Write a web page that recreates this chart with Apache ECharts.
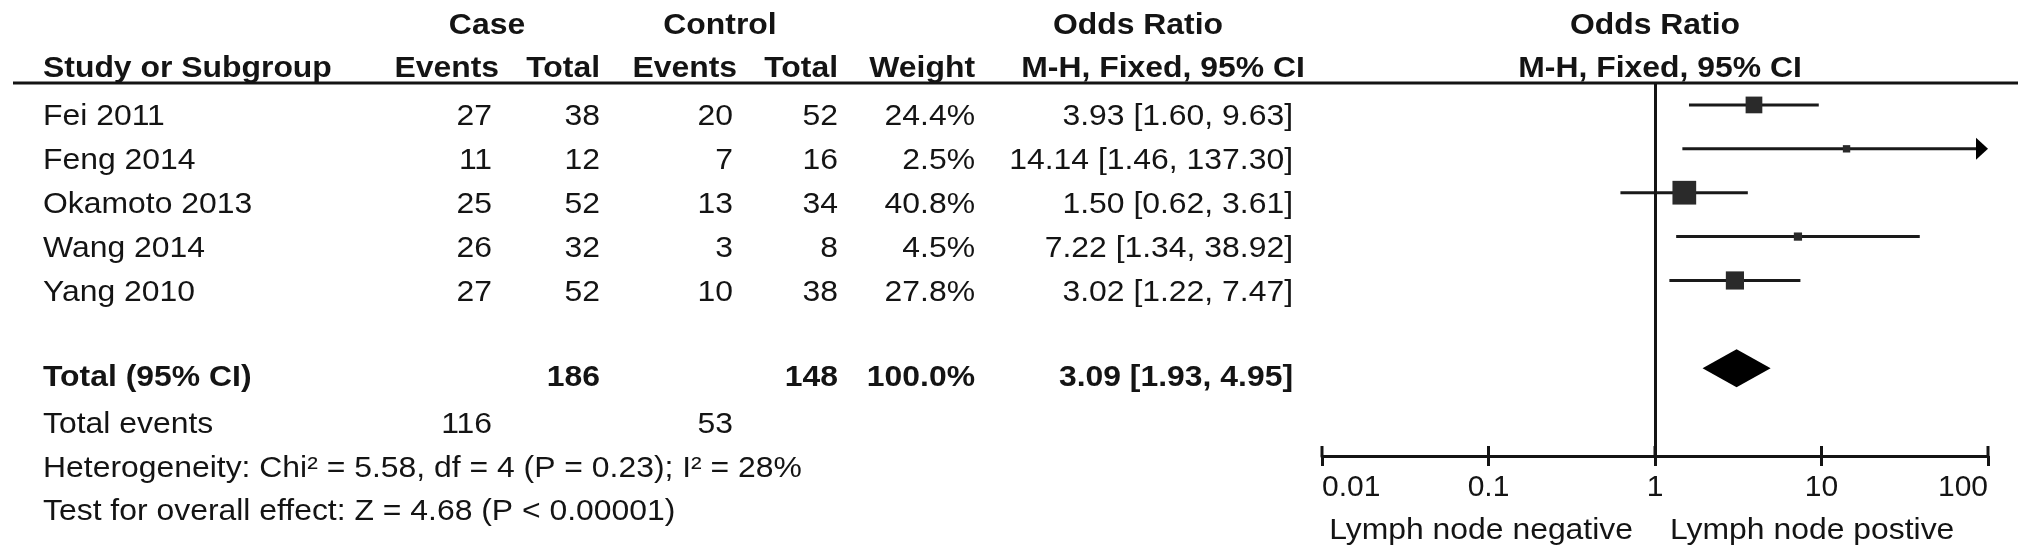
<!DOCTYPE html>
<html><head><meta charset="utf-8">
<script src="https://cdn.jsdelivr.net/npm/echarts@6/dist/echarts.min.js"></script>
<style>html,body{margin:0;padding:0;background:#fff}#c{width:2031px;height:560px}</style>
</head><body><div id="c"></div>
<script>
// ---------- data ----------
const studies = ['Fei 2011', 'Feng 2014', 'Okamoto 2013', 'Wang 2014', 'Yang 2010'];
const caseEvents = [27, 11, 25, 26, 27];
const caseTotal = [38, 12, 52, 32, 52];
const ctrlEvents = [20, 7, 13, 3, 10];
const ctrlTotal = [52, 16, 34, 8, 38];
const weights = [24.4, 2.5, 40.8, 4.5, 27.8];
const orValues = [3.93, 14.14, 1.50, 7.22, 3.02];
const ciLow = [1.60, 1.46, 0.62, 1.34, 1.22];
const ciHigh = [9.63, 137.30, 3.61, 38.92, 7.47];
const totalRow = ['Total (95% CI)', 186, 148, 100.0];
const totalOR = [3.09, 1.93, 4.95];
const totalEvents = ['Total events', 116, 53];
const heterogeneityText = 'Heterogeneity: Chi\u00b2 = 5.58, df = 4 (P = 0.23); I\u00b2 = 28%';
const overallText = 'Test for overall effect: Z = 4.68 (P < 0.00001)';
const tickValues = [0.01, 0.1, 1, 10, 100];
const tickLabels = ['0.01', '0.1', '1', '10', '100'];
const favourLeft = 'Lymph node negative';
const favourRight = 'Lymph node postive';

// ---------- layout / style ----------
const FONT = '"Liberation Sans", Arial, Helvetica, sans-serif';
const INK = '#141414';
const SX = 1.1;
const X_MIN = 0.01, X_MAX = 100;
const Y_MAX = 8;
const COL = {name: 43, caseEv: 492, caseTot: 600, ctrlEv: 733, ctrlTot: 838, weight: 975, or: 1293};
const TOTAL_ROW = 6, EVENTS_ROW = 7, HET_ROW = 8, TEST_ROW = 9;

function txt(x, y, s, align, bold, size) {
  return {
    type: 'text', x: x, y: y, scaleX: SX,
    style: {
      text: String(s), fill: INK, fontFamily: FONT, fontSize: size || 29,
      fontWeight: bold ? 'bold' : 'normal', align: align || 'left', verticalAlign: 'middle'
    }
  };
}
const fmtOR = (o, l, h) => o.toFixed(2) + ' [' + l.toFixed(2) + ', ' + h.toFixed(2) + ']';

const chart = echarts.init(document.getElementById('c'), null, {renderer: 'canvas'});

chart.setOption({
  animation: false,
  backgroundColor: '#fff',
  grid: {left: 1322, right: 43, top: 83, bottom: 104, containLabel: false},
  xAxis: {
    type: 'log', logBase: 10, min: X_MIN, max: X_MAX, position: 'bottom',
    splitLine: {show: false}, minorTick: {show: false},
    axisLine: {show: true, onZero: false, lineStyle: {color: INK, width: 3}},
    axisTick: {show: true, length: 10, inside: false, lineStyle: {color: INK, width: 3}},
    axisLabel: {
      show: true, fontSize: 30, fontFamily: FONT, color: INK, margin: 17,
      alignMinLabel: 'left', alignMaxLabel: 'right',
      formatter: function (v) {
        const k = Math.round(Math.log10(v)) + 2;
        return tickLabels[k] !== undefined ? tickLabels[k] : '';
      }
    }
  },
  yAxis: {type: 'value', inverse: true, min: -0.5, max: Y_MAX, show: false},
  graphic: [{
    type: 'line', shape: {x1: 13, y1: 83, x2: 2018, y2: 83},
    style: {stroke: INK, lineWidth: 3}, silent: true
  }],
  series: [
    // upper halves of the axis ticks
    {
      type: 'custom', name: 'ticksUp', clip: false,
      data: tickValues.map(v => [v, Y_MAX]),
      encode: {x: 0, y: 1},
      renderItem: function (params, api) {
        const p = api.coord([api.value(0), Y_MAX]);
        return {type: 'line', shape: {x1: p[0], y1: p[1] - 10, x2: p[0], y2: p[1]},
          style: {stroke: INK, lineWidth: 3}};
      }
    },
    // study rows: table text
    {
      type: 'custom', name: 'table', clip: false,
      data: studies.map((s, i) => [i, 1]),
      encode: {y: 0, x: 1},
      renderItem: function (params, api) {
        const i = api.value(0);
        const y = api.coord([1, i])[1] + 12.5;
        return {type: 'group', children: [
          txt(COL.name, y, studies[i], 'left'),
          txt(COL.caseEv, y, caseEvents[i], 'right'),
          txt(COL.caseTot, y, caseTotal[i], 'right'),
          txt(COL.ctrlEv, y, ctrlEvents[i], 'right'),
          txt(COL.ctrlTot, y, ctrlTotal[i], 'right'),
          txt(COL.weight, y, weights[i].toFixed(1) + '%', 'right'),
          txt(COL.or, y, fmtOR(orValues[i], ciLow[i], ciHigh[i]), 'right')
        ]};
      }
    },
    // study rows: CI lines and boxes
    {
      type: 'custom', name: 'forest', clip: false,
      data: studies.map((s, i) => [i, orValues[i], ciLow[i], ciHigh[i], weights[i]]),
      encode: {y: 0, x: [1, 2, 3]},
      renderItem: function (params, api) {
        const i = api.value(0), o = api.value(1), lo = api.value(2), hi = api.value(3), w = api.value(4);
        const p = api.coord([o, i]);
        const xl = api.coord([Math.max(lo, X_MIN), i])[0];
        const xh = api.coord([Math.min(hi, X_MAX), i])[0];
        const s = 6.3 + 0.427 * w;
        const children = [
          {type: 'line', shape: {x1: xl, y1: p[1], x2: hi > X_MAX ? xh - 8 : xh, y2: p[1]},
           style: {stroke: '#1a1a1a', lineWidth: 3}},
          {type: 'rect', shape: {x: p[0] - s / 2, y: p[1] - s / 2, width: s, height: s},
           style: {fill: '#2a2a2a'}}
        ];
        if (hi > X_MAX) {
          children.push({type: 'polygon', shape: {points: [[xh, p[1]], [xh - 12, p[1] - 11], [xh - 12, p[1] + 11]]},
            style: {fill: '#000'}});
        }
        return {type: 'group', children: children};
      }
    },
    // pooled diamond + line of no effect
    {
      type: 'custom', name: 'total', clip: false,
      data: [[TOTAL_ROW, totalOR[0], totalOR[1], totalOR[2]]],
      encode: {y: 0, x: [1, 2, 3]},
      renderItem: function (params, api) {
        const r = api.value(0);
        const c = api.coord([api.value(1), r]);
        const l = api.coord([api.value(2), r])[0];
        const h = api.coord([api.value(3), r])[0];
        return {type: 'polygon', shape: {points: [[l, c[1]], [c[0], c[1] - 19], [h, c[1]], [c[0], c[1] + 19]]},
          style: {fill: '#000'}};
      },
      markLine: {
        silent: true, symbol: ['none', 'none'], label: {show: false},
        lineStyle: {color: INK, width: 3, type: 'solid'},
        data: [{xAxis: 1}]
      }
    },
    // headers, totals, footnotes, favour labels
    {
      type: 'custom', name: 'text', clip: false,
      data: [[0, 1]],
      encode: {y: 0, x: 1},
      renderItem: function (params, api) {
        const x1 = api.coord([1, 0])[0];
        const rowY = r => api.coord([1, r])[1];
        const yT = rowY(TOTAL_ROW) + 9.5;
        const yE = rowY(EVENTS_ROW) + 13;
        const yH = rowY(HET_ROW) + 13;
        const yZ = rowY(TEST_ROW) + 12;
        const h1 = 26, h2 = 69, yF = 531;
        return {type: 'group', children: [
          txt(487, h1, 'Case', 'center', true),
          txt(720, h1, 'Control', 'center', true),
          txt(1138, h1, 'Odds Ratio', 'center', true),
          txt(x1, h1, 'Odds Ratio', 'center', true),
          txt(COL.name, h2, 'Study or Subgroup', 'left', true),
          txt(499, h2, 'Events', 'right', true),
          txt(COL.caseTot, h2, 'Total', 'right', true),
          txt(737, h2, 'Events', 'right', true),
          txt(COL.ctrlTot, h2, 'Total', 'right', true),
          txt(COL.weight, h2, 'Weight', 'right', true),
          txt(1163, h2, 'M-H, Fixed, 95% CI', 'center', true),
          txt(x1 + 5, h2, 'M-H, Fixed, 95% CI', 'center', true),
          txt(COL.name, yT, totalRow[0], 'left', true),
          txt(COL.caseTot, yT, totalRow[1], 'right', true),
          txt(COL.ctrlTot, yT, totalRow[2], 'right', true),
          txt(COL.weight, yT, totalRow[3].toFixed(1) + '%', 'right', true),
          txt(COL.or, yT, fmtOR(totalOR[0], totalOR[1], totalOR[2]), 'right', true),
          txt(COL.name, yE, totalEvents[0], 'left'),
          txt(COL.caseEv, yE, totalEvents[1], 'right'),
          txt(COL.ctrlEv, yE, totalEvents[2], 'right'),
          txt(COL.name, yH, heterogeneityText, 'left'),
          txt(COL.name, yZ, overallText, 'left'),
          txt(x1 - 22, yF, favourLeft, 'right'),
          txt(x1 + 15, yF, favourRight, 'left')
        ]};
      }
    }
  ]
});
</script>
</body></html>
